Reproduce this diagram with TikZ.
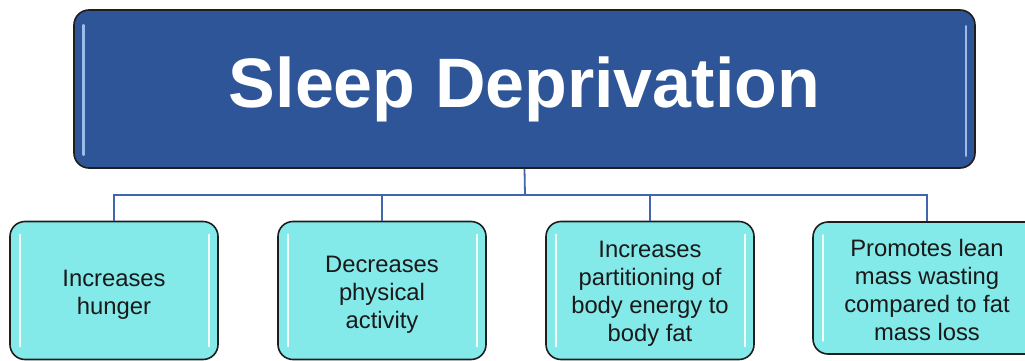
\documentclass[tikz,border=0pt]{standalone}
\usepackage{fontspec}
\setmainfont{Liberation Sans}
\definecolor{headblue}{HTML}{2E5597}
\definecolor{headglow}{HTML}{A9C8F5}
\definecolor{leafcyan}{HTML}{84E9E9}
\definecolor{linkblue}{HTML}{4066AE}
\definecolor{rim}{HTML}{1E1E1E}
\begin{document}
\begin{tikzpicture}[x=1pt,y=-1pt,
  headbox/.style={draw=rim, line width=1.6pt, fill=headblue, rounded corners=15pt,
    minimum width=901pt, minimum height=158pt, inner sep=0pt,
    text=white, font=\bfseries\fontsize{70}{84}\selectfont},
  leafbox/.style={draw=rim, line width=1.6pt, fill=leafcyan, rounded corners=15pt,
    minimum width=208pt, minimum height=138pt, inner sep=0pt},
  leaftext/.style={align=center, inner sep=0pt, text=black!90,
    font=\fontsize{23.8}{28}\selectfont},
  link/.style={draw=linkblue, line width=1.8pt},
  gleam/.style={line width=2.2pt, line cap=round, draw=white, opacity=0.9},
  headgleam/.style={line width=2.6pt, line cap=round, draw=headglow, opacity=0.9}]
\useasboundingbox (0,0) rectangle (1025,361);
\clip (0,0) rectangle (1025,361);

\coordinate (bus) at (525,195);
\node[headbox] (top) at (524.5,89) {Sleep Deprivation};
\node[leafbox] (c1) at (114,290.5) {};
\node[leafbox] (c2) at (382,290.5) {};
\node[leafbox] (c3) at (650,290.5) {};
\node[leafbox, minimum width=228pt, minimum height=132pt] (c4) at (927,288) {};

% box labels, set a little below the box centres
\node[leaftext] (t1) at ([yshift=-4pt]c1.center) {Increases\\hunger};
\node[leaftext] (t2) at ([yshift=-4pt]c2.center) {Decreases\\physical\\activity};
\node[leaftext] (t3) at ([yshift=-3pt]c3.center) {Increases\\partitioning of\\body energy to\\body fat};
\node[leaftext] (t4) at ([yshift=-2pt]c4.center) {Promotes lean\\mass wasting\\compared to fat\\mass loss};

% tree connectors
\draw[link] (top.south) -- (bus);
\foreach \c in {c1,c2,c3,c4} \draw[link] (\c.north) |- (bus);

% glossy highlights inside the boxes
\draw[headgleam] ([xshift=10pt,yshift=-16pt]top.north west) -- ([xshift=10pt,yshift=14pt]top.south west);
\draw[headgleam] ([xshift=-10pt,yshift=-17pt]top.north east) -- ([xshift=-10pt,yshift=13pt]top.south east);
\foreach \c in {c1,c2,c3,c4} {
  \draw[gleam] ([xshift=11pt,yshift=-14pt]\c.north west) -- ([xshift=11pt,yshift=14pt]\c.south west);
  \draw[gleam] ([xshift=-10pt,yshift=-14pt]\c.north east) -- ([xshift=-10pt,yshift=14pt]\c.south east);
}
\end{tikzpicture}
\end{document}
